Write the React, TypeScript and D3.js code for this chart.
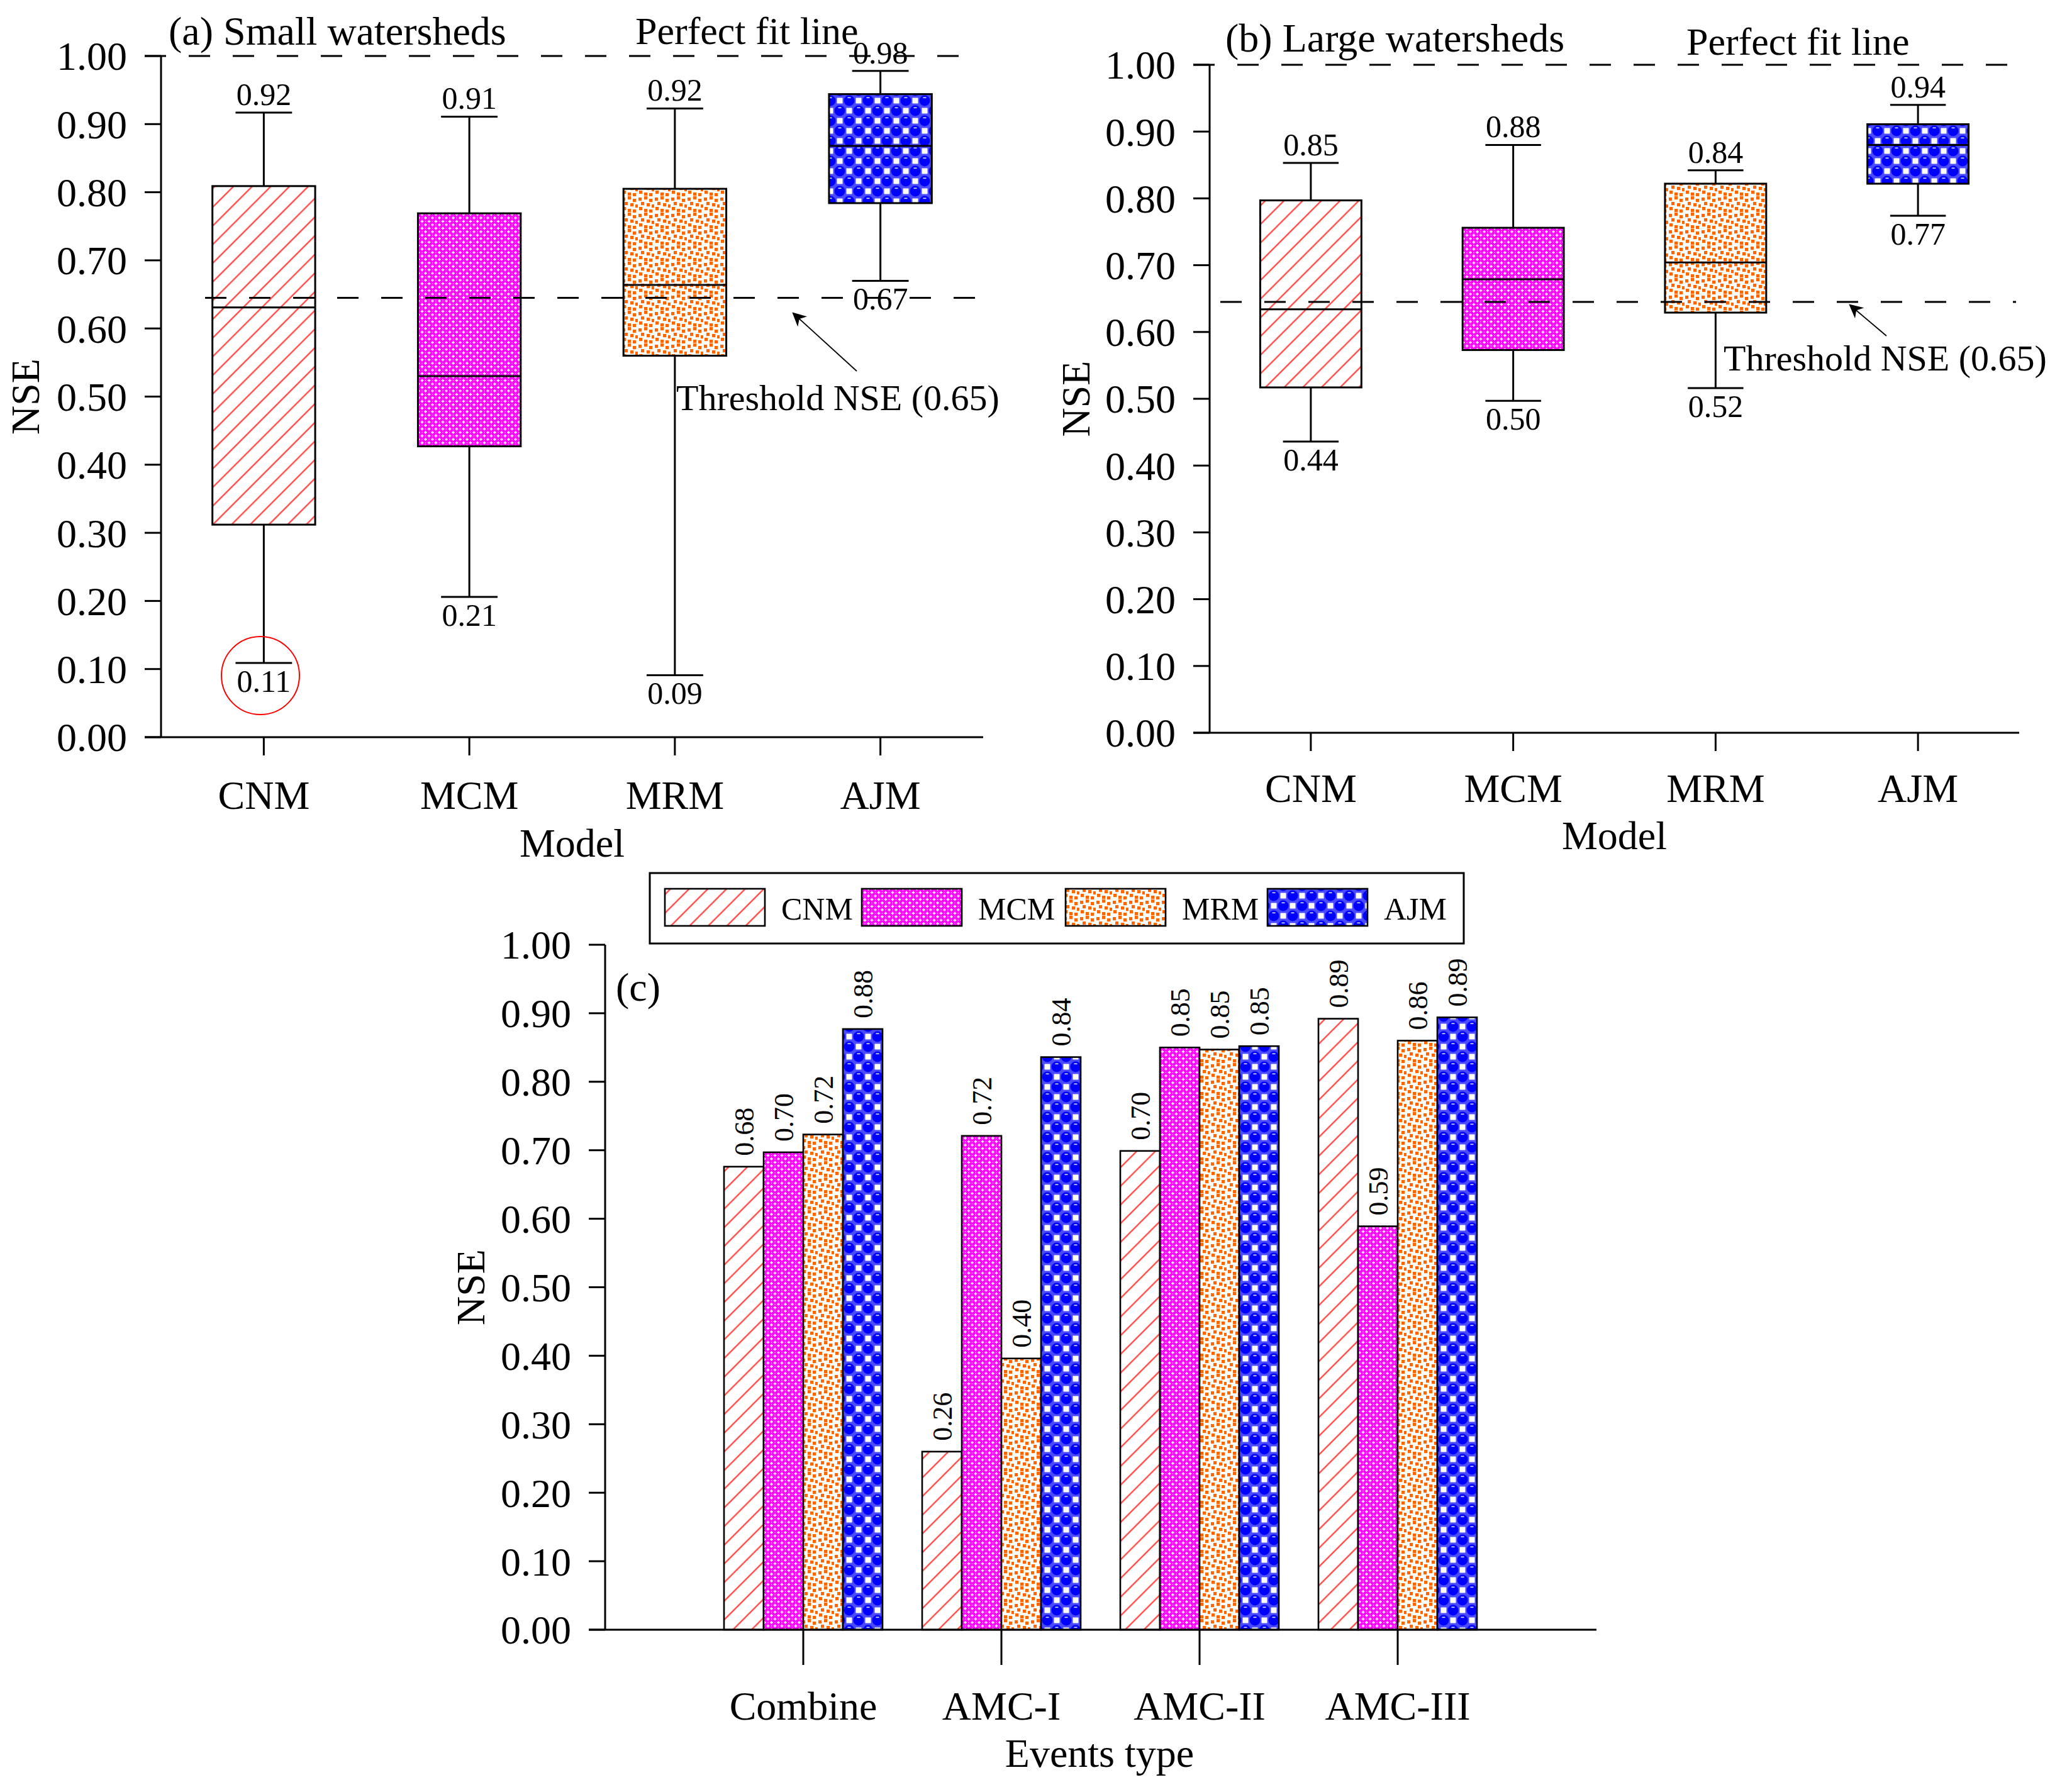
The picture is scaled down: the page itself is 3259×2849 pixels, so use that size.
import React from "react";
import * as d3 from "d3";

const models = ["CNM", "MCM", "MRM", "AJM"];
const yTicks = [0, 0.1, 0.2, 0.3, 0.4, 0.5, 0.6, 0.7, 0.8, 0.9, 1.0];

// (a) Small watersheds
const smallMin = [0.109, 0.206, 0.091, 0.67];
const smallQ1 = [0.312, 0.427, 0.56, 0.784];
const smallMedian = [0.631, 0.53, 0.664, 0.868];
const smallQ3 = [0.809, 0.769, 0.805, 0.944];
const smallMax = [0.917, 0.911, 0.923, 0.978];

// (b) Large watersheds
const largeMin = [0.436, 0.497, 0.516, 0.774];
const largeQ1 = [0.517, 0.573, 0.629, 0.822];
const largeMedian = [0.634, 0.679, 0.704, 0.88];
const largeQ3 = [0.797, 0.756, 0.822, 0.911];
const largeMax = [0.853, 0.88, 0.842, 0.94];

const thresholdNSE = 0.645;
const perfectNSE = 1.0;

// (c) Events type
const events = ["Combine", "AMC-I", "AMC-II", "AMC-III"];
const cnmNSE = [0.676, 0.26, 0.699, 0.892];
const mcmNSE = [0.697, 0.721, 0.85, 0.589];
const mrmNSE = [0.723, 0.396, 0.847, 0.86];
const ajmNSE = [0.877, 0.836, 0.852, 0.894];

const FONT = "'Liberation Serif','Times New Roman',serif";
const fmt = d3.format(".2f");
const fills = ["url(#pCNM)", "url(#pMCM)", "url(#pMRM)", "url(#pAJM)"];

function Patterns() {
  const mrmDots = [
    [1, 2], [10, 0], [18, 4], [5, 9], [14, 11], [22, 13], [2, 17], [10, 20], [18, 21],
  ];
  return (
    <defs>
      <pattern id="pCNM" patternUnits="userSpaceOnUse" width="21" height="21" patternTransform="rotate(45)">
        <rect width="21" height="21" fill="#fff" />
        <line x1="10" y1="-1" x2="10" y2="22" stroke="#ff4848" strokeWidth="2.4" />
      </pattern>
      <pattern id="pMCM" patternUnits="userSpaceOnUse" width="11" height="11">
        <rect width="11" height="11" fill="#ff00ff" />
        {[[0, 0], [11, 0], [0, 11], [11, 11], [5.5, 5.5]].map(([x, y], i) => (
          <g key={i}>
            <line x1={x - 2.4} y1={y} x2={x + 2.4} y2={y} stroke="#fff" strokeWidth="1.5" />
            <line x1={x} y1={y - 2.4} x2={x} y2={y + 2.4} stroke="#fff" strokeWidth="1.5" />
          </g>
        ))}
        {[[5.5, 0], [0, 5.5], [11, 5.5], [5.5, 11]].map(([x, y], i) => (
          <circle key={"c" + i} cx={x} cy={y} r="1" fill="#ff99ff" />
        ))}
      </pattern>
      <pattern id="pMRM" patternUnits="userSpaceOnUse" width="26" height="26">
        <rect width="26" height="26" fill="#fff" />
        {mrmDots.map(([x, y], i) => (
          <rect key={i} x={x} y={y} width="5.2" height="5.2" fill="#ff6600" />
        ))}
      </pattern>
      <pattern id="pAJM" patternUnits="userSpaceOnUse" width="30" height="32">
        <rect width="30" height="32" fill="#4a4aff" />
        {[[15, 0], [0, 16], [30, 16], [15, 32]].map(([x, y], i) => (
          <rect key={"s" + i} x={x - 4.5} y={y - 4.5} width="9" height="9" fill="#fff" />
        ))}
        {[[0, 0], [30, 0], [15, 16], [0, 32], [30, 32]].map(([x, y], i) => (
          <g key={"c" + i}>
            <circle cx={x} cy={y} r="8.5" fill="#0000ff" />
            <rect x={x - 2.5} y={y - 5.5} width="5" height="1.6" fill="#dde" />
          </g>
        ))}
      </pattern>
      <marker id="arrowHead" viewBox="0 0 10 10" refX="9" refY="5" markerWidth="22" markerHeight="22" markerUnits="userSpaceOnUse" orient="auto">
        <path d="M0,0 L10,5 L0,10 L3,5 Z" fill="#000" />
      </marker>
    </defs>
  );
}

type BoxProps = {
  left: number; right: number; top: number; bottom: number;
  mins: number[]; q1s: number[]; meds: number[]; q3s: number[]; maxs: number[];
  title: string; titleX: number; titleY: number;
  pfX: number; pfY: number;
  thrStart: number; thrEnd: number;
  thrTextX: number; thrTextY: number;
  arrow: [number, number, number, number];
  nseX: number;
  catDy: number; modelDy: number;
  children?: React.ReactNode;
};

function BoxPanel(p: BoxProps) {
  const y = d3.scaleLinear().domain([0, 1]).range([p.bottom, p.top]);
  const x = d3.scaleBand<string>().domain(models).range([p.left, p.right]).padding(0);
  const bw = x.bandwidth();
  const boxW = bw * 0.5;
  const capW = bw * 0.275;
  const tickLen = 26;
  return (
    <g fontFamily={FONT} fill="#000">
      {models.map((m, i) => {
        const cx = x(m)! + bw / 2;
        return (
          <g key={m}>
            <line x1={cx} x2={cx} y1={y(p.maxs[i])} y2={y(p.q3s[i])} stroke="#000" strokeWidth="3" />
            <line x1={cx} x2={cx} y1={y(p.q1s[i])} y2={y(p.mins[i])} stroke="#000" strokeWidth="3" />
            <line x1={cx - capW / 2} x2={cx + capW / 2} y1={y(p.maxs[i])} y2={y(p.maxs[i])} stroke="#000" strokeWidth="3" />
            <line x1={cx - capW / 2} x2={cx + capW / 2} y1={y(p.mins[i])} y2={y(p.mins[i])} stroke="#000" strokeWidth="3" />
            <rect x={cx - boxW / 2} y={y(p.q3s[i])} width={boxW} height={y(p.q1s[i]) - y(p.q3s[i])} fill={fills[i]} stroke="#000" strokeWidth="3" />
            <line x1={cx - boxW / 2} x2={cx + boxW / 2} y1={y(p.meds[i])} y2={y(p.meds[i])} stroke="#000" strokeWidth="3" />
            <text x={cx} y={y(p.maxs[i]) - 12} fontSize="50" textAnchor="middle">{fmt(p.maxs[i])}</text>
            <text x={cx} y={y(p.mins[i]) + 46} fontSize="50" textAnchor="middle">{fmt(p.mins[i])}</text>
          </g>
        );
      })}
      {/* reference lines */}
      <line x1={p.left - tickLen} x2={p.right - 14} y1={y(perfectNSE)} y2={y(perfectNSE)} stroke="#000" strokeWidth="3" strokeDasharray="34 36" />
      <line x1={p.thrStart} x2={p.thrEnd} y1={y(thresholdNSE)} y2={y(thresholdNSE)} stroke="#000" strokeWidth="3" strokeDasharray="34 36" />
      {/* axes */}
      <line x1={p.left} x2={p.left} y1={p.top} y2={p.bottom} stroke="#000" strokeWidth="3" />
      <line x1={p.left - tickLen} x2={p.right} y1={p.bottom} y2={p.bottom} stroke="#000" strokeWidth="3" />
      {yTicks.map((t) => (
        <g key={t}>
          <line x1={p.left - tickLen} x2={p.left} y1={y(t)} y2={y(t)} stroke="#000" strokeWidth="3" />
          <text x={p.left - 54} y={y(t)} dy="0.35em" fontSize="64" textAnchor="end">{fmt(t)}</text>
        </g>
      ))}
      {models.map((m) => {
        const cx = x(m)! + bw / 2;
        return (
          <g key={"t" + m}>
            <line x1={cx} x2={cx} y1={p.bottom} y2={p.bottom + 29} stroke="#000" strokeWidth="3" />
            <text x={cx} y={p.bottom + p.catDy} fontSize="64" textAnchor="middle">{m}</text>
          </g>
        );
      })}
      <text x={(p.left + p.right) / 2} y={p.bottom + p.modelDy} fontSize="64" textAnchor="middle">Model</text>
      <text transform={`translate(${p.nseX},${(p.top + p.bottom) / 2}) rotate(-90)`} dy="0.35em" fontSize="64" textAnchor="middle">NSE</text>
      <text x={p.titleX} y={p.titleY} fontSize="64">{p.title}</text>
      <text x={p.pfX} y={p.pfY} fontSize="62">Perfect fit line</text>
      <text x={p.thrTextX} y={p.thrTextY} fontSize="58">Threshold NSE (0.65)</text>
      <line x1={p.arrow[0]} y1={p.arrow[1]} x2={p.arrow[2]} y2={p.arrow[3]} stroke="#000" strokeWidth="1.8" markerEnd="url(#arrowHead)" />
      {p.children}
    </g>
  );
}

function BarPanel() {
  const left = 962, right = 2537, top = 1502, bottom = 2591;
  const y = d3.scaleLinear().domain([0, 1]).range([bottom, top]);
  const x = d3.scaleLinear().domain([0, 5]).range([left, right]);
  const inner = d3.scaleBand<string>().domain(models).range([-126, 126]).padding(0);
  const series = [cnmNSE, mcmNSE, mrmNSE, ajmNSE];
  const tickLen = 26;
  const legX = [1057, 1370, 1694, 2015];
  return (
    <g fontFamily={FONT} fill="#000">
      {events.map((e, gi) => (
        <g key={e}>
          {models.map((m, si) => {
            const v = series[si][gi];
            const bx = x(gi + 1) + inner(m)!;
            const w = inner.bandwidth();
            return (
              <g key={m}>
                <rect x={bx} y={y(v)} width={w} height={bottom - y(v)} fill={fills[si]} stroke="#000" strokeWidth="2.6" />
                <text transform={`translate(${bx + w / 2},${y(v) - 17}) rotate(-90)`} dy="0.35em" fontSize="44" textAnchor="start">{fmt(v)}</text>
              </g>
            );
          })}
        </g>
      ))}
      <line x1={left} x2={left} y1={top} y2={bottom} stroke="#000" strokeWidth="3" />
      <line x1={left - tickLen} x2={right + 1} y1={bottom} y2={bottom} stroke="#000" strokeWidth="3" />
      {yTicks.map((t) => (
        <g key={t}>
          <line x1={left - tickLen} x2={left} y1={y(t)} y2={y(t)} stroke="#000" strokeWidth="3" />
          <text x={left - 54} y={y(t)} dy="0.35em" fontSize="64" textAnchor="end">{fmt(t)}</text>
        </g>
      ))}
      {events.map((e, gi) => (
        <g key={"t" + e}>
          <line x1={x(gi + 1)} x2={x(gi + 1)} y1={bottom} y2={bottom + 56} stroke="#000" strokeWidth="3" />
          <text x={x(gi + 1)} y={bottom + 143} fontSize="64" textAnchor="middle">{e}</text>
        </g>
      ))}
      <text x={1748} y={bottom + 218} fontSize="64" textAnchor="middle">Events type</text>
      <text transform={`translate(748,${(top + bottom) / 2}) rotate(-90)`} dy="0.35em" fontSize="64" textAnchor="middle">NSE</text>
      <text x={979} y={1591} fontSize="64">(c)</text>
      {/* legend */}
      <rect x={1033} y={1388} width={1294} height={112} fill="#fff" stroke="#000" strokeWidth="3" />
      {models.map((m, i) => (
        <g key={"l" + m}>
          <rect x={legX[i]} y={1413} width={159} height={59} fill={fills[i]} stroke="#000" strokeWidth="2.6" />
          <text x={legX[i] + 185} y={1462} fontSize="50">{m}</text>
        </g>
      ))}
    </g>
  );
}

export default function App() {
  return (
    <svg width={3259} height={2849} style={{ position: "absolute", left: 0, top: 0 }} xmlns="http://www.w3.org/2000/svg">
      <Patterns />
      <rect width={3259} height={2849} fill="#fff" />
      <BoxPanel
        left={256} right={1563} top={89} bottom={1172}
        mins={smallMin} q1s={smallQ1} meds={smallMedian} q3s={smallQ3} maxs={smallMax}
        title="(a) Small watersheds" titleX={268} titleY={71}
        pfX={1010} pfY={70}
        thrStart={326} thrEnd={1550}
        thrTextX={1075} thrTextY={652}
        arrow={[1362, 590, 1261, 498]}
        nseX={40} catDy={114} modelDy={190}
      >
        <circle cx={414} cy={1074} r={62} fill="none" stroke="#ff0000" strokeWidth="2" />
      </BoxPanel>
      <BoxPanel
        left={1923} right={3210} top={103} bottom={1165}
        mins={largeMin} q1s={largeQ1} meds={largeMedian} q3s={largeQ3} maxs={largeMax}
        title="(b) Large watersheds" titleX={1948} titleY={82}
        pfX={2681} pfY={87}
        thrStart={1940} thrEnd={3205}
        thrTextX={2740} thrTextY={589}
        arrow={[2999, 534, 2941, 485]}
        nseX={1710} catDy={110} modelDy={185}
      />
      <BarPanel />
    </svg>
  );
}
